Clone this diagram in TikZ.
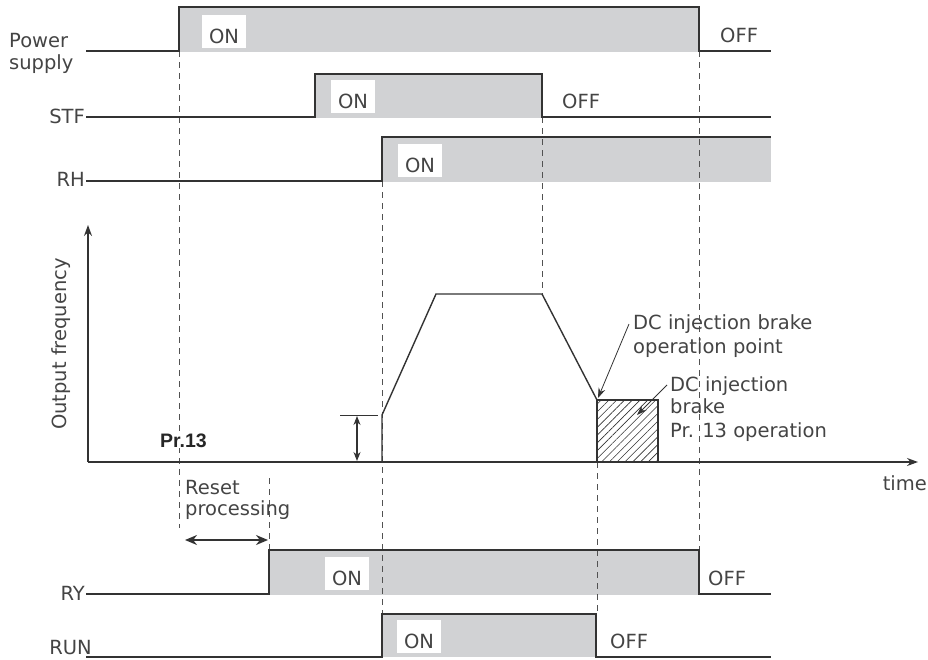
\documentclass[tikz,border=0pt]{standalone}
\usepackage{fontspec}
\setmainfont{DejaVu Sans}
\newfontfamily\boldfam{Liberation Sans}
\usetikzlibrary{arrows.meta,patterns.meta}
\definecolor{fillg}{HTML}{D1D2D4}
\definecolor{ink}{HTML}{333333}
\definecolor{txt}{HTML}{444444}
\begin{document}
\begin{tikzpicture}[x=1pt,y=-1pt,
  sig/.style={draw=ink,line width=1.4pt},
  dsh/.style={draw=ink!85,line width=0.8pt,dash pattern=on 6pt off 5pt},
  lbl/.style={text=txt,font=\fontsize{19.5}{23}\selectfont,inner sep=0pt},
  onbox/.style={lbl,fill=white,inner xsep=7pt,inner ysep=5pt,text height=23pt,text depth=0pt,anchor=base},
  ann/.style={draw=ink,line width=0.8pt,-{Stealth[length=10pt,width=7pt]}},
  dbl/.style={draw=ink,line width=1.1pt,{Stealth[length=9pt,width=7pt]}-{Stealth[length=9pt,width=7pt]}},
  dblb/.style={draw=ink,line width=1.6pt,{Stealth[length=12pt,width=10pt]}-{Stealth[length=12pt,width=10pt]}},
  ax/.style={draw=ink,line width=1.3pt,-{Stealth[length=11pt,width=8pt]}}]
\useasboundingbox (0,0) rectangle (928,659);
% fills
\fill[fillg] (179,7) rectangle (699,52);
\fill[fillg] (315,74) rectangle (542,118);
\fill[fillg] (382,137) rectangle (771,182);
\fill[fillg] (269,550) rectangle (699,595);
\fill[fillg] (382,614) rectangle (596,657);
% dashed guides
\draw[dsh] (179,51) -- (179,528);
\draw[dsh] (269,478) -- (269,550);
\draw[dsh] (382,181) -- (382,614);
\draw[dsh] (542,117) -- (542,294);
\draw[dsh] (597,462) -- (597,614);
\draw[dsh] (699,51) -- (699,550);
% signals
\draw[sig] (86,51) -- (179,51) -- (179,7) -- (699,7) -- (699,51) -- (771,51);
\draw[sig] (86,117) -- (315,117) -- (315,74) -- (542,74) -- (542,117) -- (771,117);
\draw[sig] (86,181) -- (382,181) -- (382,137) -- (771,137);
\draw[sig] (86,594) -- (269,594) -- (269,550) -- (699,550) -- (699,594) -- (771,594);
\draw[sig] (86,657) -- (382,657) -- (382,614) -- (596,614) -- (596,657) -- (771,657);
% signal labels
\node[lbl,anchor=base west] (pw1) at (9,47) {Power};
\node[lbl,anchor=base west] (pw2) at (9,69) {supply};
\node[lbl,anchor=base east] (stf) at (85,123) {STF};
\node[lbl,anchor=base east] (rh) at (85,186) {RH};
\node[lbl,anchor=base east] (ry) at (85,600) {RY};
\node[lbl,anchor=base east] (run) at (92,654) {RUN};
% ON / OFF
\node[onbox] (on1) at (224,43) {ON};
\node[onbox] (on2) at (353,108) {ON};
\node[onbox] (on3) at (420,172) {ON};
\node[onbox] (on4) at (347,585) {ON};
\node[onbox] (on5) at (419,648) {ON};
\node[lbl,anchor=base west] (off1) at (720,42) {OFF};
\node[lbl,anchor=base west] (off2) at (562,108) {OFF};
\node[lbl,anchor=base west] (off3) at (708,585) {OFF};
\node[lbl,anchor=base west] (off4) at (610,648) {OFF};
% frequency graph
\coordinate (org) at (88,462);
\coordinate (ytip) at (88,225);
\coordinate (xtip) at (918,462);
\draw[ax] (org) -- (ytip);
\draw[ax] (org) -- (xtip);
\node[lbl,rotate=90,anchor=base] (of) at (66,344) {Output frequency};
\node[lbl,anchor=base east] (tm) at (927,490) {time};
\draw[sig] (382,462) -- (382,415) -- (436,294) -- (542,294) -- (597,400);
\draw[sig,pattern={Lines[angle=45,distance=5.5pt,line width=0.6pt]},pattern color=ink] (597,400) rectangle (658,462);
\coordinate (tk1) at (340,415);
\coordinate (tk2) at (378,415);
\draw[draw=ink,line width=1pt] (tk1) -- (tk2);
\coordinate (da) at (357,416);
\coordinate (db) at (357,461);
\draw[dbl] (da) -- (db);
\node[text=black!85,font=\boldfam\bfseries\fontsize{19.5}{23}\selectfont,inner xsep=1pt,inner ysep=1pt,fill=white,anchor=base west] (pr) at (159,447) {Pr.13};
% annotations
\node[lbl,anchor=base west] (dc1a) at (633,329) {DC injection brake};
\node[lbl,anchor=base west] (dc1b) at (633,353) {operation point};
\node[lbl,anchor=base west] (dc2a) at (670,391) {DC injection};
\node[lbl,anchor=base west] (dc2b) at (670,413) {brake};
\node[lbl,anchor=base west] (dc2c) at (670,437) {Pr. 13 operation};
\coordinate (a1s) at (629,324);
\coordinate (a1e) at (598,398);
\draw[ann] (a1s) -- (a1e);
\coordinate (a2s) at (667,385);
\coordinate (a2e) at (637,415);
\draw[ann] (a2s) -- (a2e);
% reset processing
\node[lbl,anchor=base west] (rs1) at (185,494) {Reset};
\node[lbl,anchor=base west] (rs2) at (185,515) {processing};
\coordinate (ra) at (185,540);
\coordinate (rb) at (268,540);
\draw[dblb] (ra) -- (rb);
\end{tikzpicture}
\end{document}
